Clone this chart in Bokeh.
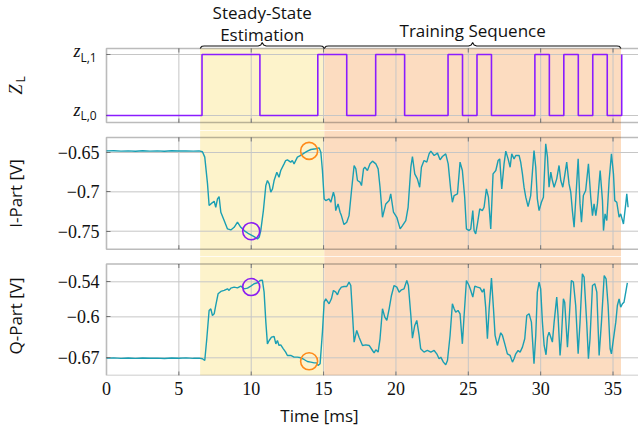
from math import pi

from bokeh.embed import file_html
from bokeh.layouts import column
from bokeh.models import (BoxAnnotation, CustomJSTickFormatter, FixedTicker,
                          Label, LinearAxis, Range1d)
from bokeh.plotting import figure
from bokeh.resources import INLINE

# ---------------------------------------------------------------- data ----
# load impedance state (0 -> z_L,0, 1 -> z_L,1), switching instants in ms
zl_time = [0.0, 6.6, 10.6, 14.6, 16.6, 18.6, 20.6, 23.6, 24.6, 25.6, 26.6,
           29.6, 30.6, 31.6, 32.6, 33.6, 34.6, 35.6]
zl_state = [0, 1, 0, 1, 0, 1, 0, 1, 0, 1, 0, 1, 0, 1, 0, 1, 0, 1]
zl_names = ["L,0", "L,1"]

# measurement phases [start, end] in ms
steady_phase = [6.47, 15.05]
training_phase = [15.05, 35.55]
phase_names = ["Steady-State", "Estimation", "Training Sequence"]

# I-part of the received signal
i_time = [0.00, 0.50, 1.00, 1.50, 2.00, 2.50, 3.00, 3.50, 4.00, 4.50, 5.00,
          5.50, 6.00, 6.40, 6.63, 6.79, 6.98, 7.09, 7.21, 7.44, 7.55, 7.67,
          7.78, 7.90, 8.13, 8.36, 8.59, 8.82, 9.05, 9.28, 9.51, 9.85, 10.20,
          10.43, 10.55, 10.66, 10.84, 11.01, 11.12, 11.24, 11.35, 11.47,
          11.58, 11.77, 11.92, 12.04, 12.27, 12.38, 12.50, 12.73, 12.84,
          12.96, 13.19, 13.42, 13.65, 13.88, 14.12, 14.46, 14.69, 14.81,
          14.92, 15.04, 15.15, 15.38, 15.50, 15.68, 15.77, 15.84, 16.00,
          16.14, 16.23, 16.41, 16.60, 16.76, 16.93, 17.11, 17.23, 17.34,
          17.52, 17.62, 17.76, 17.85, 18.03, 18.21, 18.38, 18.61, 18.77,
          18.90, 19.07, 19.30, 19.53, 19.64, 19.83, 20.06, 20.29, 20.45,
          20.68, 20.84, 21.03, 21.14, 21.30, 21.48, 21.64, 21.76, 21.94,
          22.13, 22.29, 22.41, 22.64, 22.87, 23.05, 23.21, 23.44, 23.61,
          23.79, 23.90, 24.02, 24.25, 24.43, 24.59, 24.75, 24.87, 25.05,
          25.17, 25.31, 25.40, 25.51, 25.63, 25.79, 25.97, 26.09, 26.25,
          26.39, 26.55, 26.71, 26.90, 27.06, 27.17, 27.31, 27.47, 27.59,
          27.75, 27.89, 28.00, 28.16, 28.28, 28.51, 28.62, 28.74, 28.85,
          28.97, 29.13, 29.31, 29.54, 29.66, 29.77, 29.89, 30.05, 30.19,
          30.35, 30.47, 30.58, 30.70, 30.81, 30.93, 31.11, 31.27, 31.39,
          31.53, 31.66, 31.80, 31.96, 32.08, 32.19, 32.31, 32.42, 32.59,
          32.72, 32.82, 32.95, 33.11, 33.30, 33.46, 33.58, 33.69, 33.81,
          33.92, 34.11, 34.27, 34.34, 34.45, 34.57, 34.73, 34.89, 35.03,
          35.12, 35.26, 35.42, 35.53, 35.72, 35.88, 35.95, 36.04]
i_volt = [-0.6480, -0.6478, -0.6483, -0.6479, -0.6484, -0.6477, -0.6482,
          -0.6480, -0.6485, -0.6478, -0.6481, -0.6479, -0.6483, -0.6480,
          -0.6490, -0.6559, -0.6899, -0.7174, -0.7153, -0.7119, -0.7196,
          -0.7089, -0.7060, -0.7259, -0.7365, -0.7471, -0.7484, -0.7450,
          -0.7386, -0.7450, -0.7492, -0.7535, -0.7569, -0.7598, -0.7577,
          -0.7492, -0.7238, -0.6920, -0.6856, -0.6899, -0.7005, -0.6962,
          -0.6856, -0.6750, -0.6814, -0.6729, -0.6644, -0.6602, -0.6593,
          -0.6623, -0.6602, -0.6644, -0.6559, -0.6538, -0.6508, -0.6483,
          -0.6462, -0.6453, -0.6441, -0.6496, -0.6729, -0.7089, -0.7111,
          -0.7089, -0.7132, -0.7005, -0.7068, -0.7238, -0.7153, -0.7259,
          -0.7302, -0.7416, -0.7386, -0.7302, -0.6983, -0.6665, -0.6708,
          -0.6856, -0.6877, -0.6920, -0.6708, -0.6687, -0.6729, -0.6644,
          -0.6610, -0.6644, -0.6708, -0.6941, -0.7323, -0.7153, -0.7111,
          -0.7026, -0.7259, -0.7323, -0.7471, -0.7429, -0.7365, -0.7196,
          -0.6687, -0.6551, -0.6771, -0.6835, -0.6941, -0.6687, -0.6602,
          -0.6623, -0.6517, -0.6483, -0.6538, -0.6508, -0.6593, -0.6551,
          -0.6517, -0.6644, -0.6983, -0.7132, -0.7047, -0.7026, -0.6623,
          -0.6729, -0.7068, -0.7471, -0.7492, -0.7471, -0.7238, -0.7492,
          -0.7535, -0.7408, -0.7217, -0.7238, -0.7196, -0.6962, -0.7068,
          -0.7471, -0.6771, -0.6729, -0.6602, -0.6581, -0.6962, -0.6644,
          -0.6483, -0.6581, -0.6687, -0.6517, -0.6581, -0.6538, -0.6538,
          -0.6623, -0.6771, -0.6941, -0.7068, -0.7187, -0.7047, -0.6475,
          -0.6687, -0.7089, -0.7238, -0.7132, -0.7068, -0.6390, -0.6559,
          -0.6941, -0.6750, -0.6856, -0.6941, -0.6835, -0.6665, -0.6856,
          -0.6941, -0.6793, -0.6623, -0.6899, -0.7005, -0.7238, -0.7450,
          -0.7111, -0.6581, -0.7153, -0.7386, -0.7047, -0.6983, -0.6644,
          -0.7068, -0.7302, -0.7153, -0.7302, -0.7153, -0.6729, -0.7111,
          -0.7492, -0.7280, -0.7365, -0.6856, -0.6517, -0.6771, -0.7111,
          -0.7132, -0.7323, -0.7280, -0.7408, -0.7153, -0.7026, -0.7196]

# Q-part of the received signal
q_time = [0.00, 0.50, 1.00, 1.50, 2.00, 2.50, 3.00, 3.50, 4.00, 4.50, 5.00,
          5.50, 6.00, 6.40, 6.63, 6.79, 6.93, 7.09, 7.21, 7.32, 7.44, 7.55,
          7.71, 7.90, 8.13, 8.36, 8.47, 8.59, 8.82, 9.05, 9.28, 9.51, 9.74,
          9.97, 10.20, 10.43, 10.61, 10.77, 10.89, 11.01, 11.12, 11.24,
          11.40, 11.58, 11.70, 11.81, 11.92, 12.04, 12.22, 12.38, 12.50,
          12.73, 12.96, 13.19, 13.42, 13.65, 13.88, 14.12, 14.35, 14.53,
          14.62, 14.76, 14.92, 15.04, 15.15, 15.38, 15.54, 15.68, 15.84,
          15.96, 16.07, 16.23, 16.41, 16.60, 16.76, 16.88, 16.99, 17.11,
          17.29, 17.45, 17.69, 17.92, 18.15, 18.38, 18.49, 18.61, 18.77,
          18.90, 19.07, 19.23, 19.37, 19.53, 19.69, 19.87, 20.06, 20.22,
          20.38, 20.56, 20.75, 20.86, 21.03, 21.14, 21.30, 21.44, 21.60,
          21.71, 21.94, 22.17, 22.41, 22.64, 22.82, 22.98, 23.10, 23.28,
          23.44, 23.56, 23.74, 23.90, 24.02, 24.13, 24.29, 24.43, 24.59,
          24.71, 24.87, 25.05, 25.17, 25.31, 25.45, 25.63, 25.81, 25.97,
          26.09, 26.20, 26.32, 26.44, 26.60, 26.74, 26.85, 27.01, 27.13,
          27.24, 27.36, 27.52, 27.70, 27.89, 28.05, 28.16, 28.28, 28.44,
          28.58, 28.74, 28.90, 29.04, 29.20, 29.36, 29.54, 29.66, 29.77,
          29.89, 30.00, 30.12, 30.24, 30.37, 30.47, 30.58, 30.70, 30.81,
          30.93, 31.11, 31.20, 31.34, 31.43, 31.57, 31.66, 31.85, 31.96,
          32.12, 32.26, 32.42, 32.59, 32.72, 32.88, 33.00, 33.18, 33.30,
          33.41, 33.58, 33.74, 33.88, 34.04, 34.20, 34.39, 34.52, 34.66,
          34.80, 34.89, 35.03, 35.19, 35.30, 35.42, 35.53, 35.65, 35.76,
          35.88, 35.99]
q_volt = [-0.6706, -0.6702, -0.6710, -0.6704, -0.6709, -0.6703, -0.6708,
          -0.6705, -0.6711, -0.6704, -0.6707, -0.6702, -0.6709, -0.6706,
          -0.6717, -0.6746, -0.6375, -0.5890, -0.5862, -0.5976, -0.5947,
          -0.5805, -0.5605, -0.5565, -0.5548, -0.5520, -0.5548, -0.5508,
          -0.5491, -0.5503, -0.5474, -0.5520, -0.5508, -0.5474, -0.5434,
          -0.5417, -0.5377, -0.5371, -0.5577, -0.6090, -0.6461, -0.6404,
          -0.6347, -0.6335, -0.6461, -0.6404, -0.6489, -0.6478, -0.6546,
          -0.6603, -0.6660, -0.6660, -0.6689, -0.6689, -0.6700, -0.6729,
          -0.6763, -0.6774, -0.6786, -0.6786, -0.6831, -0.6803, -0.6261,
          -0.5748, -0.5691, -0.5776, -0.5691, -0.5548, -0.5577, -0.5622,
          -0.5548, -0.5491, -0.5480, -0.5480, -0.5406, -0.5463, -0.5919,
          -0.6432, -0.6232, -0.6347, -0.6489, -0.6478, -0.6489, -0.6575,
          -0.6615, -0.6563, -0.6603, -0.6375, -0.5862, -0.6004, -0.6061,
          -0.5862, -0.5634, -0.5463, -0.5491, -0.5577, -0.5537, -0.5520,
          -0.5377, -0.5463, -0.5976, -0.6364, -0.6147, -0.6061, -0.6318,
          -0.6546, -0.6603, -0.6575, -0.6603, -0.6575, -0.6632, -0.6717,
          -0.6689, -0.6774, -0.6820, -0.6746, -0.6318, -0.5776, -0.5862,
          -0.5919, -0.5890, -0.5947, -0.6461, -0.5976, -0.5377, -0.5463,
          -0.5548, -0.5662, -0.5474, -0.5491, -0.5503, -0.5577, -0.5520,
          -0.5833, -0.6375, -0.5862, -0.5337, -0.5862, -0.6318, -0.6489,
          -0.6375, -0.6272, -0.6318, -0.6461, -0.6632, -0.6660, -0.6774,
          -0.6717, -0.6632, -0.6575, -0.6603, -0.6518, -0.6375, -0.5976,
          -0.5947, -0.6090, -0.6803, -0.6318, -0.5577, -0.5406, -0.5520,
          -0.6090, -0.6489, -0.6649, -0.6347, -0.6261, -0.6347, -0.6432,
          -0.6090, -0.5662, -0.5976, -0.6660, -0.6375, -0.5691, -0.5748,
          -0.6518, -0.6090, -0.5377, -0.5406, -0.5805, -0.6632, -0.6090,
          -0.5263, -0.5320, -0.6090, -0.6717, -0.6375, -0.5463, -0.5434,
          -0.5577, -0.6660, -0.6090, -0.5292, -0.5349, -0.5805, -0.6546,
          -0.6632, -0.6375, -0.6090, -0.5805, -0.5691, -0.5833, -0.5776,
          -0.5748, -0.5577, -0.5417]

# highlighted samples (purple: z_L,1 settled, orange: z_L,0 settled)
mark_time = [10.0, 14.0]
mark_i = [-0.750, -0.648]
mark_q = [-0.549, -0.676]
mark_colors = ["#8a1cf2", "#ff8a1a"]

time_ticks = [0, 5, 10, 15, 20, 25, 30, 35]
zl_ticks = [0, 1]
i_ticks = [-0.75, -0.7, -0.65]
q_ticks = [-0.67, -0.6, -0.54]

# --------------------------------------------------------------- style ----
SANS = "Open Sans"
SERIF = "Liberation Serif"
INK = "#111111"
TRACE = "#1a9fb3"
ZL_COLOR = "#8a1cff"
GRID = "#c6c6c6"
TICK = "#777777"
BOX = "#1e1e1e"
STEADY_FILL = "#fdf3cb"
TRAIN_FILL = "#fcdcc0"

WIDTH = 638
LEFT = 106                     # room for the y labels, left of t = 0
X_END = 36.76
PX_PER_MS = (WIDTH - LEFT) / X_END
TICK_PX = 4

# every panel spans the full width; t = 0 sits LEFT pixels in
x_range = Range1d(-LEFT / PX_PER_MS, X_END)

minus_fmt = CustomJSTickFormatter(
    code="return (tick < 0 ? '\u2212' : '') + Math.abs(tick).toString();")


def make_panel(frame_h, y_lo, y_hi, box_lo, box_hi, levels, bottom=0,
               shade_top=None):
    """Full-width panel with shading, box, grid and box-edge tick marks."""
    p = figure(frame_width=WIDTH, frame_height=frame_h, x_range=x_range,
               y_range=Range1d(y_lo, y_hi), output_backend="svg",
               toolbar_location=None,
               x_axis_location="below" if bottom else None,
               y_axis_location=None, min_border=0,
               min_border_bottom=bottom)
    p.grid.visible = False
    p.outline_line_color = None
    p.background_fill_color = "white"
    p.border_fill_color = "white"

    for (x0, x1), fill in ((steady_phase, STEADY_FILL),
                           (training_phase, TRAIN_FILL)):
        kw = dict(left=x0, right=x1, fill_color=fill, fill_alpha=1.0,
                  line_color=None, level="image")
        if shade_top is not None:
            kw["top"] = shade_top
        p.add_layout(BoxAnnotation(**kw))

    inner = time_ticks[1:]
    n = len(levels)
    p.segment(x0=inner, y0=box_lo, x1=inner, y1=box_hi,
              line_color=GRID, line_width=1, level="underlay")
    p.segment(x0=[0] * n, y0=levels, x1=[X_END + 1] * n, y1=levels,
              line_color=GRID, line_width=1, level="underlay")
    dy = TICK_PX * (y_hi - y_lo) / frame_h
    p.segment(x0=inner, y0=box_lo, x1=inner, y1=box_lo + dy,
              line_color=TICK, line_width=1)
    p.segment(x0=inner, y0=box_hi - dy, x1=inner, y1=box_hi,
              line_color=TICK, line_width=1)

    p.add_layout(BoxAnnotation(left=0, right=X_END + 1, bottom=box_lo,
                               top=box_hi, fill_alpha=0, line_color=BOX,
                               line_width=1.6, level="overlay"))
    return p


def add_value_axis(p, ticks, title):
    ax = LinearAxis(fixed_location=0, ticker=FixedTicker(ticks=ticks),
                    formatter=minus_fmt)
    ax.axis_line_color = None
    ax.major_tick_in = TICK_PX
    ax.major_tick_out = 0
    ax.major_tick_line_color = TICK
    ax.minor_tick_line_color = None
    ax.major_label_standoff = 7
    ax.major_label_text_font = SERIF
    ax.major_label_text_font_size = "18px"
    ax.major_label_text_color = INK
    ax.axis_label = title
    ax.axis_label_text_font = SANS
    ax.axis_label_text_font_size = "17px"
    ax.axis_label_text_font_style = "normal"
    ax.axis_label_text_color = INK
    ax.axis_label_standoff = 28
    p.add_layout(ax, "left")


def label(p, **kw):
    kw.setdefault("text_color", INK)
    p.add_layout(Label(**kw))


# -------------------------------------------------------- Z_L panel ----
ZL_LO, ZL_HI = -0.246, 1.885
ZL_BOX_LO, ZL_BOX_HI = -0.115, 1.098
p1 = make_panel(130, ZL_LO, ZL_HI, ZL_BOX_LO, ZL_BOX_HI, zl_ticks,
                shade_top=ZL_BOX_HI)
n_lv = len(zl_ticks)
p1.segment(x0=[0] * n_lv, y0=zl_ticks, x1=[TICK_PX / PX_PER_MS] * n_lv,
           y1=zl_ticks, line_color=TICK, line_width=1)
p1.step(zl_time, zl_state, mode="after", line_color=ZL_COLOR, line_width=1.6)

for state, sub, z_dy, sub_dy in ((1, zl_names[1], 3, -3),
                                 (0, zl_names[0], 5.5, 0)):
    label(p1, x=0, y=state, x_offset=-26, y_offset=z_dy, text="z",
          text_align="right", text_baseline="middle", text_font=SERIF,
          text_font_style="italic", text_font_size="18px")
    label(p1, x=0, y=state, x_offset=-26, y_offset=sub_dy, text=sub,
          text_align="left", text_baseline="middle", text_font=SANS,
          text_font_size="12px")

label(p1, x=0, y=0.5, x_offset=-91, y_offset=-4.5, text="Z",
      angle=pi / 2, text_align="center", text_baseline="middle",
      text_font=SERIF, text_font_style="italic", text_font_size="18px")
label(p1, x=0, y=0.5, x_offset=-86, y_offset=5.5, text="L",
      angle=pi / 2, text_align="center", text_baseline="middle",
      text_font=SANS, text_font_size="12px")

# curly braces over the two phases
BR_BASE, BR_LINE, BR_PEAK = 1.098, 1.139, 1.197
for x0, x1 in (steady_phase, training_phase):
    mid = 0.5 * (x0 + x1)
    c = 0.28
    xs = [x0, x0 + 0.06, x0 + 0.14, x0 + c, mid - c, mid - 0.1, mid,
          mid + 0.1, mid + c, x1 - c, x1 - 0.14, x1 - 0.06, x1]
    ys = [BR_BASE, BR_LINE - 0.02, BR_LINE - 0.003, BR_LINE, BR_LINE,
          BR_LINE + 0.015, BR_PEAK, BR_LINE + 0.015, BR_LINE, BR_LINE,
          BR_LINE - 0.003, BR_LINE - 0.02, BR_BASE]
    p1.line(xs, ys, line_color=INK, line_width=1.1)

for text, x, y in ((phase_names[0], sum(steady_phase) / 2, 1.685),
                   (phase_names[1], sum(steady_phase) / 2, 1.325),
                   (phase_names[2], sum(training_phase) / 2, 1.39)):
    label(p1, x=x, y=y, text=text, text_align="center",
          text_baseline="middle", text_font=SANS, text_font_size="17px")

# --------------------------------------------------------- I panel ----
p2 = make_panel(126, -0.78215, -0.62205, -0.77287, -0.63094, i_ticks)
add_value_axis(p2, i_ticks, "I-Part [V]")
p2.line(i_time, i_volt, line_color=TRACE, line_width=1.4)
p2.scatter(mark_time, mark_i, marker="circle", size=17, fill_color=None,
           line_color=mark_colors, line_width=1.6)

# --------------------------------------------------------- Q panel ----
p3 = make_panel(119, -0.70028, -0.49672, -0.70028, -0.50955, q_ticks,
                bottom=52)
add_value_axis(p3, q_ticks, "Q-Part [V]")
p3.line(q_time, q_volt, line_color=TRACE, line_width=1.4)
p3.scatter(mark_time, mark_q, marker="circle", size=17, fill_color=None,
           line_color=mark_colors, line_width=1.6)

xa = p3.xaxis[0]
xa.ticker = FixedTicker(ticks=time_ticks)
xa.bounds = (0, X_END)
xa.axis_line_color = None
xa.major_tick_in = 0
xa.major_tick_out = 0
xa.minor_tick_line_color = None
xa.major_label_standoff = 6
xa.major_label_text_font = SERIF
xa.major_label_text_font_size = "18px"
xa.major_label_text_color = INK
xa.axis_label = "Time [ms]"
xa.axis_label_text_font = SANS
xa.axis_label_text_font_size = "17px"
xa.axis_label_text_font_style = "normal"
xa.axis_label_text_color = INK
xa.axis_label_standoff = 6

layout = column(p1, p2, p3, spacing=0)

with open("out.html", "w") as f:
    f.write(file_html(layout, INLINE))
